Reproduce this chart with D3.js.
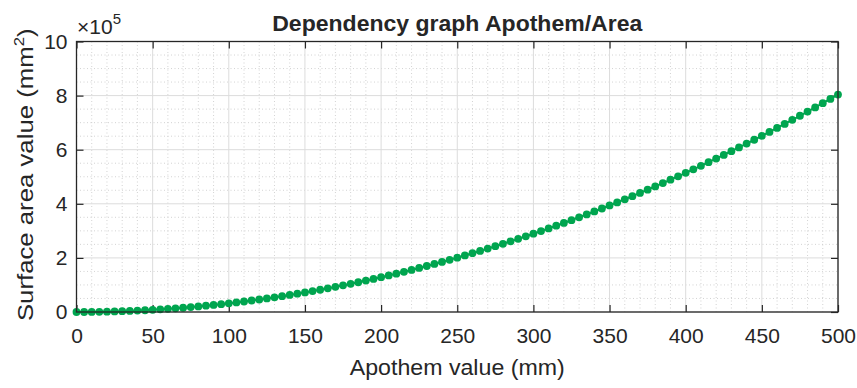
<!DOCTYPE html>
<html>
<head>
<meta charset="utf-8">
<script src="https://cdn.jsdelivr.net/npm/d3@7"></script>
<style>
  html, body { margin: 0; padding: 0; background: #fff; }
  svg { display: block; }
  text { font-family: "Liberation Sans", Arial, Helvetica, sans-serif; fill: #262626; }
</style>
</head>
<body>
<svg id="chart" width="857" height="388"></svg>
<script>
// ---- Data ----
const apothem = [0,5,10,15,20,25,30,35,40,45,50,55,60,65,70,75,80,85,90,95,
  100,105,110,115,120,125,130,135,140,145,150,155,160,165,170,175,180,185,190,195,
  200,205,210,215,220,225,230,235,240,245,250,255,260,265,270,275,280,285,290,295,
  300,305,310,315,320,325,330,335,340,345,350,355,360,365,370,375,380,385,390,395,
  400,405,410,415,420,425,430,435,440,445,450,455,460,465,470,475,480,485,490,495,500];
const area = [0,80,322,723,1286,2010,2894,3939,5145,6511,8039,9727,11575,13585,15755,18087,20579,23231,26045,29019,
  32154,35450,38906,42524,46302,50241,54340,58601,63022,67604,72347,77250,82314,87539,92925,98472,104179,110047,116076,122266,
  128616,135127,141799,148632,155625,162780,170095,177570,185207,193004,200963,209081,217361,225801,234403,243165,252087,261171,270415,279820,
  289386,299113,309000,319048,329257,339627,350157,360848,371700,382713,393887,405221,416716,428372,440188,452166,464304,476603,489062,501683,
  514464,527406,540509,553772,567197,580782,594527,608434,622501,636730,651119,665668,680379,695250,710282,725475,740828,756342,772018,787853,803850];
const xTicks = [0,50,100,150,200,250,300,350,400,450,500];
const yTicks = [0,200000,400000,600000,800000,1000000];
const yTickLabels = ["0","2","4","6","8","10"];
const titleText = "Dependency graph Apothem/Area";
const xLabelText = "Apothem value (mm)";

// ---- Layout ----
const svg = d3.select("#chart");
const L = 76.5, R = 838, T = 41.5, B = 312;
const x = d3.scaleLinear().domain([0, 500]).range([L, R]);
const y = d3.scaleLinear().domain([0, 1000000]).range([B, T]);
const green = "#00a54f";
const axisColor = "#262626";

// minor grid
const xMinor = d3.range(0, 501, 10).filter(v => v % 50 !== 0);
const yMinor = d3.range(0, 1000001, 50000).filter(v => v % 200000 !== 0);
const grid = svg.append("g");
grid.selectAll(".xm").data(xMinor).enter().append("line")
  .attr("x1", d => x(d)).attr("x2", d => x(d)).attr("y1", T).attr("y2", B)
  .attr("stroke", "#c8c8c8").attr("stroke-width", 0.8).attr("stroke-dasharray", "1,2.5");
grid.selectAll(".ym").data(yMinor).enter().append("line")
  .attr("x1", L).attr("x2", R).attr("y1", d => y(d)).attr("y2", d => y(d))
  .attr("stroke", "#c8c8c8").attr("stroke-width", 0.8).attr("stroke-dasharray", "1,2.5");
// major grid
grid.selectAll(".xM").data(xTicks).enter().append("line")
  .attr("x1", d => x(d)).attr("x2", d => x(d)).attr("y1", T).attr("y2", B)
  .attr("stroke", "#dcdcdc").attr("stroke-width", 1);
grid.selectAll(".yM").data(yTicks).enter().append("line")
  .attr("x1", L).attr("x2", R).attr("y1", d => y(d)).attr("y2", d => y(d))
  .attr("stroke", "#dcdcdc").attr("stroke-width", 1);

// axes (ticks inward, mirrored)
const tl = 7;
const xb = svg.append("g").attr("transform", `translate(0,${B})`)
  .call(d3.axisBottom(x).tickValues(xTicks).tickSizeInner(-tl).tickSizeOuter(0).tickPadding(16).tickFormat(d3.format("d")));
const xt = svg.append("g").attr("transform", `translate(0,${T})`)
  .call(d3.axisTop(x).tickValues(xTicks).tickSizeInner(-tl).tickSizeOuter(0).tickFormat(""));
const yl = svg.append("g").attr("transform", `translate(${L},0)`)
  .call(d3.axisLeft(y).tickValues(yTicks).tickSizeInner(-tl).tickSizeOuter(0).tickPadding(9)
    .tickFormat((d, i) => yTickLabels[i]));
const yr = svg.append("g").attr("transform", `translate(${R},0)`)
  .call(d3.axisRight(y).tickValues(yTicks).tickSizeInner(-tl).tickSizeOuter(0).tickFormat(""));
[xb, xt, yl, yr].forEach(g => {
  g.selectAll(".domain").remove();
  g.selectAll(".tick line").attr("stroke", axisColor).attr("stroke-width", 1.2);
  g.selectAll(".tick text").attr("font-size", 21).attr("fill", "#333")
    .style("font-family", '"Liberation Sans", Arial, sans-serif');
});
xb.selectAll(".tick text").attr("dy", "0.71em");

// data line and markers
svg.append("path").datum(apothem.map((a, i) => [a, area[i]]))
  .attr("fill", "none").attr("stroke", green).attr("stroke-width", 2)
  .attr("d", d3.line().x(d => x(d[0])).y(d => y(d[1])));
svg.append("g").selectAll("circle").data(apothem.map((a, i) => [a, area[i]]))
  .enter().append("circle")
  .attr("cx", d => x(d[0])).attr("cy", d => y(d[1])).attr("r", 3.9)
  .attr("fill", green);

// box
svg.append("rect").attr("x", L).attr("y", T).attr("width", R - L).attr("height", B - T)
  .attr("fill", "none").attr("stroke", axisColor).attr("stroke-width", 1.3);

// title
svg.append("text").attr("x", (L + R) / 2).attr("y", 30.5).attr("text-anchor", "middle")
  .attr("font-size", 22.5).attr("font-weight", "bold").attr("fill", "#111")
  .attr("textLength", 370).attr("lengthAdjust", "spacingAndGlyphs")
  .text(titleText);

// x label
svg.append("text").attr("x", (L + R) / 2).attr("y", 375).attr("text-anchor", "middle")
  .attr("font-size", 22.5).attr("fill", "#333").attr("textLength", 215).attr("lengthAdjust", "spacingAndGlyphs")
  .text(xLabelText);

// y label
const ylab = svg.append("text")
  .attr("transform", `translate(33,${(T + B) / 2 - 2}) rotate(-90) scale(1.12,1)`)
  .attr("text-anchor", "middle").attr("font-size", 23).attr("fill", "#333");
ylab.append("tspan").text("Surface area value (mm");
ylab.append("tspan").attr("font-size", 15).attr("dy", -9).text("2");
ylab.append("tspan").attr("dy", 9).text(")");

// exponent
const ex = svg.append("text").attr("x", 77).attr("y", 34).attr("font-size", 21).attr("fill", "#333");
ex.append("tspan").text("×10");
ex.append("tspan").attr("font-size", 15).attr("dy", -10).text("5");
</script>
</body>
</html>
